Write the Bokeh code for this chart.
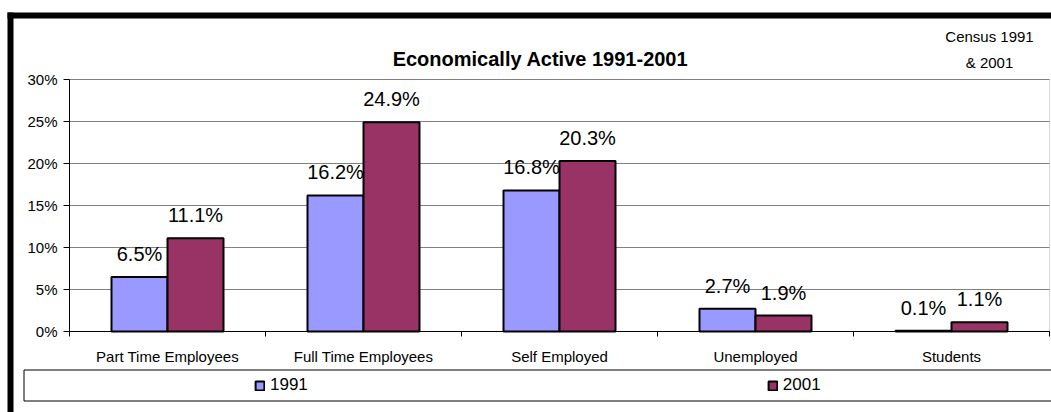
from bokeh.plotting import figure
from bokeh.models import (Range1d, FixedTicker, PrintfTickFormatter, ColumnDataSource,
                          LabelSet, Label, BoxAnnotation, Legend, LegendItem, Grid)
from bokeh.transform import dodge
from bokeh.core.properties import value
from bokeh.embed import file_html
from bokeh.resources import INLINE

# ---- data ----
categories = ["Part Time Employees", "Full Time Employees", "Self Employed", "Unemployed", "Students"]
series_names = ["1991", "2001"]
values_1991 = [6.5, 16.2, 16.8, 2.7, 0.1]
values_2001 = [11.1, 24.9, 20.3, 1.9, 1.1]
y_ticks = [0, 5, 10, 15, 20, 25, 30]
title_text = "Economically Active 1991-2001"
note_lines = ["Census 1991", "& 2001"]
colors = ["#9999FF", "#993366"]

# ---- layout (pixels) ----
W, H = 1051, 412
PL, PR, PT, PB = 69, 1049, 79, 331      # plot area edges on the canvas
FONT = "Liberation Sans"

n = len(categories)
ymin, ymax = y_ticks[0], y_ticks[-1]
centers = [i + 0.5 for i in range(n)]
bar_w = 0.2857

# ranges chosen so that the plot area lands on PL..PR / PT..PB while the frame fills the canvas
xu = (PR - PL) / n
yu = (PB - PT) / (ymax - ymin)
x_range = Range1d(-PL / xu, n + (W - PR) / xu)
y_range = Range1d(ymin - (H - PB) / yu, ymax + PT / yu)

src = ColumnDataSource(dict(
    x=centers,
    cat=categories,
    v1991=values_1991,
    v2001=values_2001,
    l1991=[f"{v:.1f}%" for v in values_1991],
    l2001=[f"{v:.1f}%" for v in values_2001],
))

p = figure(width=W, height=H, x_range=x_range, y_range=y_range,
           output_backend="svg", toolbar_location=None, min_border=0,
           min_border_left=0, min_border_right=0, min_border_top=0, min_border_bottom=0)
p.title.visible = False
p.background_fill_color = "white"
p.border_fill_color = "white"
p.outline_line_color = None

# plot-area border (grey), under everything
p.add_layout(BoxAnnotation(left=0, right=n, bottom=ymin, top=ymax, fill_alpha=0,
                           line_color="#808080", line_width=1, level="underlay"))

# grid
p.xgrid.visible = False
p.ygrid.ticker = FixedTicker(ticks=y_ticks)
p.ygrid.grid_line_color = "#808080"
p.ygrid.grid_line_width = 1
if "cross_bounds" in Grid.properties():
    p.ygrid.cross_bounds = (0, n)

r1 = p.vbar(x=dodge("x", -bar_w / 2, range=p.x_range), top="v1991", width=bar_w, source=src,
            fill_color=colors[0], line_color="black", line_width=2)
r2 = p.vbar(x=dodge("x", bar_w / 2, range=p.x_range), top="v2001", width=bar_w, source=src,
            fill_color=colors[1], line_color="black", line_width=2)

for off, col in [(-bar_w / 2, "1991"), (bar_w / 2, "2001")]:
    p.add_layout(LabelSet(x=dodge("x", off, range=p.x_range), y="v" + col, text="l" + col,
                          source=src, y_offset=16, text_align="center", text_baseline="alphabetic",
                          text_font=value(FONT), text_font_size=value("20px"), text_color="black"))

# axes, fixed at the plot-area edges
xa = p.xaxis[0]
xa.fixed_location = ymin
xa.bounds = (0, n)
xa.ticker = FixedTicker(ticks=centers, minor_ticks=list(range(n + 1)))
xa.major_label_overrides = {c: lab for c, lab in zip(centers, categories)}
xa.major_tick_out = 0
xa.major_tick_in = 0
xa.minor_tick_out = 5
xa.minor_tick_in = 0
xa.minor_tick_line_color = "black"
xa.axis_line_color = "black"
xa.major_label_standoff = 11
xa.major_label_text_font = FONT
xa.major_label_text_font_size = "15px"
xa.major_label_text_color = "black"

ya = p.yaxis[0]
ya.fixed_location = 0
ya.bounds = (ymin, ymax)
ya.ticker = FixedTicker(ticks=y_ticks)
ya.formatter = PrintfTickFormatter(format="%d%%")
ya.major_tick_out = 6
ya.major_tick_in = 0
ya.minor_tick_line_color = None
ya.axis_line_color = "black"
ya.major_tick_line_color = "black"
ya.major_label_standoff = 6
ya.major_label_text_font = FONT
ya.major_label_text_font_size = "15px"
ya.major_label_text_color = "black"

# title and note (screen units: x from left, y from bottom of canvas)
p.add_layout(Label(x=540, y=H - 58, x_units="screen", y_units="screen", text=title_text,
                   text_align="center", text_baseline="alphabetic", text_font=FONT,
                   text_font_size="20px", text_font_style="bold", text_color="black"))
p.add_layout(Label(x=989, y=H - 36, x_units="screen", y_units="screen", text=note_lines[0],
                   text_align="center", text_baseline="alphabetic", text_font=FONT,
                   text_font_size="15px", text_color="black"))
p.add_layout(Label(x=989, y=H - 62, x_units="screen", y_units="screen", text=note_lines[1],
                   text_align="center", text_baseline="alphabetic", text_font=FONT,
                   text_font_size="15px", text_color="black"))

# outer thick black border (top and left) and the legend box
for l, r, t, b in [(7, W + 10, H - 12, H - 18), (7, 13, H - 12, -10)]:
    p.add_layout(BoxAnnotation(left=l, right=r, top=t, bottom=b,
                               left_units="screen", right_units="screen",
                               top_units="screen", bottom_units="screen",
                               fill_color="black", fill_alpha=1, line_alpha=0))
p.add_layout(BoxAnnotation(left=23.5, right=W + 10, top=H - 369.5, bottom=H - 400.5,
                           left_units="screen", right_units="screen",
                           top_units="screen", bottom_units="screen",
                           fill_alpha=0, line_color="black", line_width=1, line_alpha=1))

legend = Legend(items=[LegendItem(label=series_names[0], renderers=[r1]),
                       LegendItem(label=series_names[1], renderers=[r2])],
                location=(254, 17), orientation="horizontal", spacing=459, padding=0, margin=0,
                glyph_width=11, glyph_height=11, label_standoff=5,
                label_text_font=FONT, label_text_font_size="17px", label_text_color="black",
                border_line_alpha=0, background_fill_alpha=0)
p.add_layout(legend)

open("out.html", "w").write(file_html(p, INLINE, title="Economically Active 1991-2001"))
